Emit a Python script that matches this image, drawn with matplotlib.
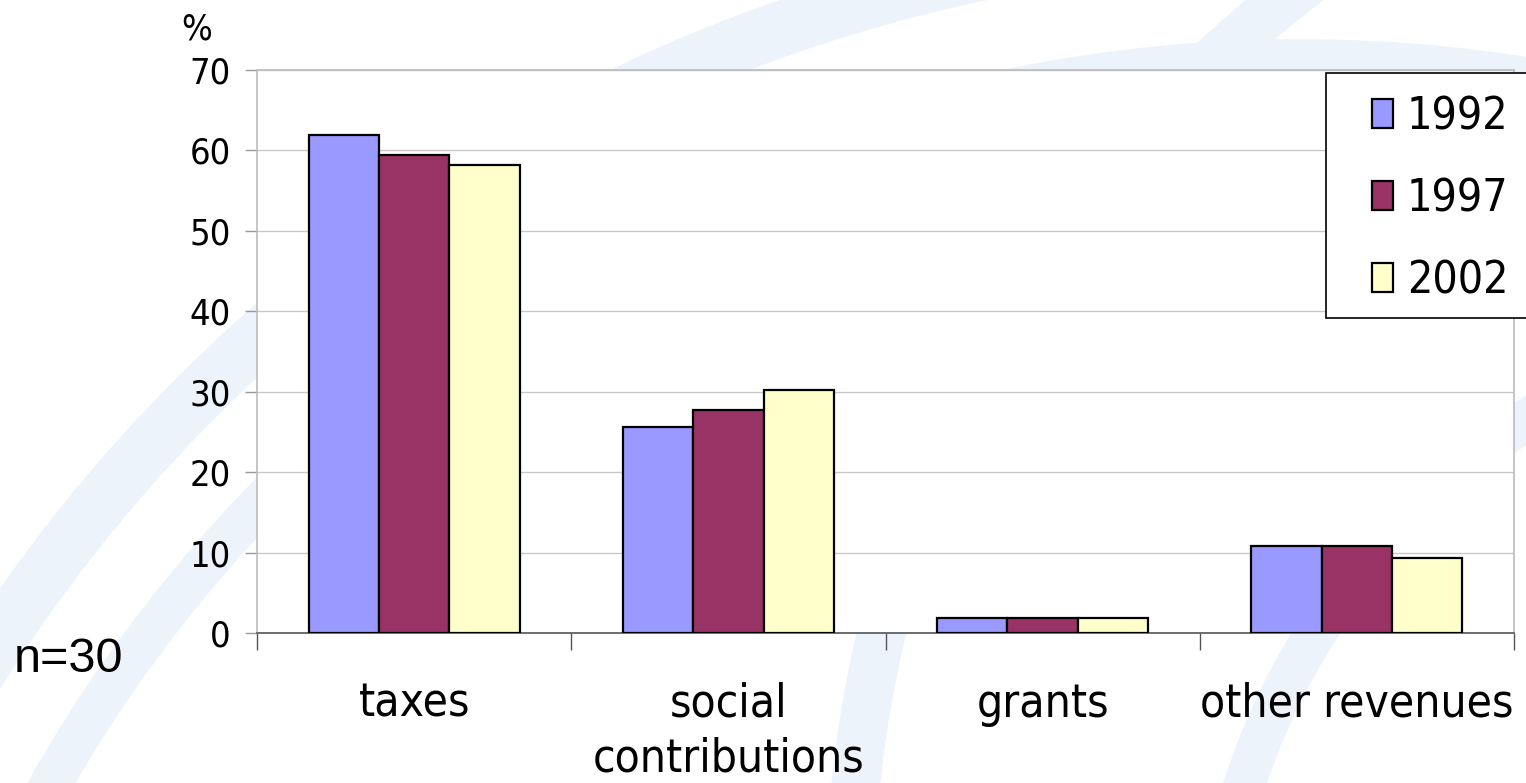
import matplotlib
matplotlib.use('Agg')
import matplotlib.pyplot as plt
import numpy as np
from matplotlib.patches import Circle, Rectangle

plt.rcParams['font.family'] = ['DejaVu Sans']
plt.rcParams['font.stretch'] = 'condensed'

# data
categories = ['taxes', 'social\ncontributions', 'grants', 'other revenues']
years = ['1992', '1997', '2002']
v1992 = [61.9, 25.6, 1.9, 10.8]
v1997 = [59.4, 27.7, 1.9, 10.8]
v2002 = [58.2, 30.2, 1.9, 9.3]
colors = ['#9999ff', '#993366', '#ffffcc']

fig = plt.figure(figsize=(15.26, 7.83), dpi=100)
fig.patch.set_facecolor('white')

# faint watermark rings in pixel coordinates, behind the chart
bg = fig.add_axes([0, 0, 1, 1], zorder=-5)
bg.set_xlim(0, 1526)
bg.set_ylim(783, 0)
bg.set_aspect('equal', adjustable='datalim')
bg.axis('off')
for (cx, cy, r, lw) in [(1300, 1500, 1560, 40), (1300, 1500, 1440, 30),
                        (2000, 900, 1150, 35), (1900, 1000, 690, 30),
                        (2300, 1300, 900, 25)]:
    bg.add_patch(Circle((cx, cy), r, fill=False, ec='#edf3fb', lw=lw))

ax = fig.add_axes([257/1526, 1-633/783, (1514-257)/1526, (633-70)/783])
ax.set_facecolor('white')

x = np.arange(len(categories))
w = 0.224
for i, (vals, lab) in enumerate(zip([v1992, v1997, v2002], years)):
    ax.bar(x + (i-1)*w, vals, w, color=colors[i], edgecolor='black',
           linewidth=1.6, label=lab, zorder=3)

ax.set_xlim(-0.5, 3.5)
ax.set_ylim(0, 70)
ax.set_yticks(range(0, 71, 10))
ax.grid(axis='y', color='#c8c8c8', linewidth=1, zorder=0)
ax.set_axisbelow(True)

ax.set_xticks(x)
ax.set_xticklabels(categories, fontsize=33, linespacing=1.28)
ax.set_xticks(np.arange(-0.5, 3.6, 1), minor=True)
ax.tick_params(axis='x', which='major', length=0, pad=35)
ax.tick_params(axis='x', which='minor', length=12, width=1, color='#555555')
ax.tick_params(axis='y', length=9, width=1, color='#999999', labelsize=26, pad=10)

for s in ['top', 'right', 'left']:
    ax.spines[s].set_color('#bbbbbb')
    ax.spines[s].set_linewidth(1.2)
ax.spines['bottom'].set_color('#555555')
ax.spines['bottom'].set_linewidth(1.2)

fig.text(181/1526, 1-46/783, '%', fontsize=26, ha='left', va='bottom')
fig.text(14/1526, 1-660/783, 'n=30', fontsize=35, ha='left', va='center',
         family='Liberation Sans', stretch='normal')

# legend box drawn by hand so the frame can run off the right edge
ax.add_patch(Rectangle((1326/1526, 1-318/783), 0.2, 245/783,
                       transform=fig.transFigure, facecolor='white',
                       edgecolor='black', linewidth=1.2, zorder=4,
                       clip_on=False))
leg = ax.legend(loc='upper left', bbox_to_anchor=(1372/1526, 1-95/783),
                bbox_transform=fig.transFigure, fontsize=32, frameon=False,
                borderaxespad=0, borderpad=0,
                handlelength=0.48, handleheight=0.64, handletextpad=0.3,
                labelspacing=0.88)
leg.set_zorder(5)

fig.savefig('out.png', dpi=100)
